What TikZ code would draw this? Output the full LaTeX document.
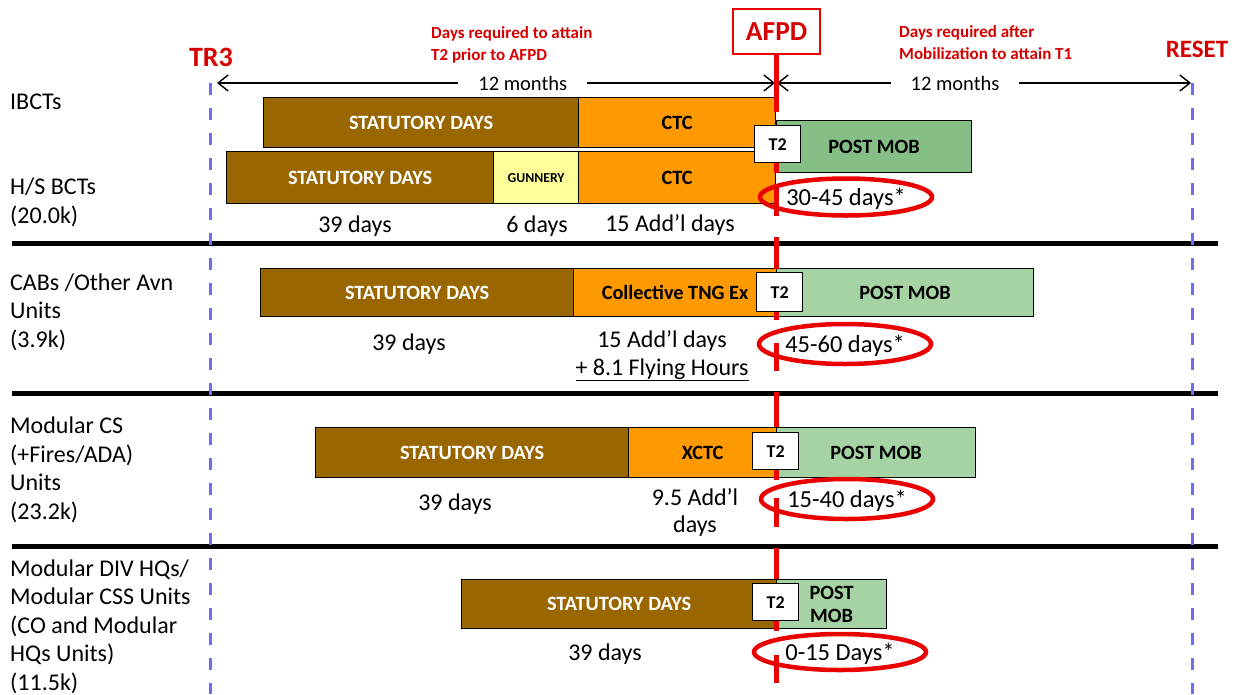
\documentclass[tikz,border=0pt]{standalone}
\usepackage{fontspec}
\setmainfont{Carlito}
\usetikzlibrary{arrows.meta,shapes.geometric}
\definecolor{brn}{RGB}{153,102,0}
\definecolor{org}{RGB}{255,153,0}
\definecolor{yel}{RGB}{255,255,153}
\definecolor{grnD}{RGB}{133,191,133}
\definecolor{grnL}{RGB}{165,211,163}
\definecolor{bluD}{RGB}{110,110,245}
\definecolor{myred}{RGB}{235,0,0}
\definecolor{redtxt}{RGB}{215,0,0}
\newcommand\fsz[2]{\fontsize{#1}{#2}\selectfont}
\begin{document}
\begin{tikzpicture}[x=1pt,y=-1pt,
  bx/.style={draw=black, line width=1.2pt, inner sep=0pt, anchor=north west,
             font=\bfseries\fsz{20.3}{23}},
  sbox/.style={bx, fill=brn, text=white},
  obox/.style={bx, fill=org},
  gbox/.style={bx, fill=yel, font=\bfseries\fsz{13.7}{16}},
  pboxD/.style={bx, fill=grnD},
  pboxL/.style={bx, fill=grnL},
  tbox/.style={bx, fill=white, font=\bfseries\fsz{18}{20}},
  lbl/.style={anchor=base west, align=left, inner sep=0pt, font=\fsz{24}{28.5}},
  dys/.style={anchor=base, align=center, inner sep=0pt, font=\fsz{24}{28}},
  oval/.style={draw=myred, ellipse, line width=4.5pt, inner sep=0pt, text depth=0pt,
               minimum width=172pt, font=\fsz{24.5}{28}},
  redlbl/.style={anchor=base west, align=left, inner sep=0pt, text=redtxt, font=\bfseries\fsz{17}{21.5}},
  milestone/.style={anchor=base, inner sep=0pt, text=redtxt, font=\bfseries\fsz{28}{32}},
  dim/.style={line width=1.4pt, {Straight Barb[length=10pt,width=16pt]}-{Straight Barb[length=10pt,width=16pt]}},
  mlabel/.style={fill=white, inner xsep=20pt, inner ysep=2pt, font=\fsz{20.5}{24}},
  sepline/.style={line width=5pt, black},
  bluedash/.style={draw=bluD, line width=3pt, dash pattern=on 12pt off 13pt},
  redline/.style={draw=myred, line width=5pt}
]
\useasboundingbox (0,0) rectangle (1237,694);
\fill[white] (0,0) rectangle (1237,694);

% section separators
\draw[sepline] (12,243) -- (1218,243);
\draw[sepline] (12,393) -- (1218,393);
\draw[sepline] (12,546) -- (1218,546);

% milestones
\node[milestone] (tr3) at (211,66) {TR3};
\node[milestone, font=\bfseries\fsz{25}{28}] (reset) at (1197,57) {RESET};
\coordinate (tr3top) at (210,83);
\coordinate (tr3bot) at (210,694);
\coordinate (rstop) at (1192,83);
\coordinate (rsbot) at (1192,694);
\draw[bluedash] (tr3top) -- (tr3bot);
\draw[bluedash] (rstop) -- (rsbot);

\node[draw=myred, line width=2.2pt, fill=white, anchor=north west, inner sep=0pt,
      minimum width=87pt, minimum height=45pt,
      text=redtxt, font=\bfseries\fsz{27.5}{30}] (afpd) at (732,8) {AFPD};

\node[redlbl] (req1) at (431,60) {Days required to attain\\T2 prior to AFPD};
\node[redlbl] (req2) at (899,59) {Days required after\\Mobilization to attain T1};

% 12 month spans
\coordinate (la) at (217,83);
\coordinate (lb) at (775,83);
\coordinate (ra) at (777,83);
\coordinate (rb) at (1191,83);
\draw[dim] (la) -- node[mlabel, pos=0.548] {12 months} (lb);
\draw[dim] (ra) -- node[mlabel, pos=0.43] {12 months} (rb);

% Row 1: IBCTs
\node[sbox, minimum width=315pt, minimum height=50pt] (s1) at (263,97) {STATUTORY DAYS};
\node[obox, minimum width=197pt, minimum height=50pt] (c1) at (578,97) {CTC};
\node[pboxD, minimum width=195pt, minimum height=52pt] (p1) at (776,120) {POST MOB};
% Row 2: H/S BCTs
\node[sbox, minimum width=267pt, minimum height=52pt] (s2) at (226,151) {STATUTORY DAYS};
\node[gbox, minimum width=85pt, minimum height=52pt] (g2) at (493,151) {GUNNERY};
\node[obox, minimum width=197pt, minimum height=52pt] (c2) at (578,151) {CTC};
% Row 3: CABs
\node[sbox, minimum width=313pt, minimum height=48pt] (s3) at (260,268) {STATUTORY DAYS};
\node[obox, minimum width=203pt, minimum height=48pt] (c3) at (573,268) {Collective TNG Ex};
\node[pboxL, minimum width=257pt, minimum height=48pt] (p3) at (776,268) {POST MOB};
% Row 4: Modular CS
\node[sbox, minimum width=313pt, minimum height=50pt] (s4) at (315,427) {STATUTORY DAYS};
\node[obox, minimum width=148pt, minimum height=50pt] (c4) at (628,427) {XCTC};
\node[pboxL, minimum width=199pt, minimum height=50pt] (p4) at (776,427) {POST MOB};
% Row 5: Modular DIV HQs
\node[sbox, minimum width=315pt, minimum height=49pt] (s5) at (461,579) {STATUTORY DAYS};
\node[pboxL, minimum width=110pt, minimum height=49pt, align=center,
      font=\bfseries\fsz{20.3}{23}] (p5) at (776,579) {POST\\MOB};

% AFPD line (drawn in pieces over the bars)
\foreach \a/\b in {53/112, 160/173, 188/216, 237/269, 309/320, 343/371,
                   392/427, 467/480, 498/527, 548/579, 618/631, 655/683}
  \draw[redline] (776,\a) -- (776,\b);

% T2 markers
\node[tbox, minimum width=46pt, minimum height=37pt] (t1) at (754,125) {T2};
\node[tbox, minimum width=46pt, minimum height=39pt] (t3) at (756,272) {T2};
\node[tbox, minimum width=46pt, minimum height=37pt] (t4) at (752,432) {T2};
\node[tbox, minimum width=46pt, minimum height=37pt] (t5) at (752,583) {T2};

% post-mob ovals
\node[oval, minimum height=37pt] (o2) at (846,197) {30-45 days*};
\node[oval, minimum height=40pt] (o3) at (845,344) {45-60 days*};
\node[oval, minimum height=40pt] (o4) at (847,499) {15-40 days*};
\node[oval, minimum height=36pt] (o5) at (840,652) {0-15 Days*};

% unit labels (anchored at the baseline of the last line)
\node[lbl] (l1) at (10,109) {IBCTs};
\node[lbl] (l2) at (10,223) {H/S BCTs\\(20.0k)};
\node[lbl] (l3) at (10,347) {CABs /Other Avn\\Units\\(3.9k)};
\node[lbl] (l4) at (10,519) {Modular CS\\(+Fires/ADA)\\Units\\(23.2k)};
\node[lbl] (l5) at (10,690) {Modular DIV HQs/\\Modular CSS Units\\(CO and Modular\\HQs Units)\\(11.5k)};

% durations
\node[dys] (d2a) at (355,232) {39 days};
\node[dys] (d2b) at (537,232) {6 days};
\node[dys] (d2c) at (670,231) {15 Add’l days};
\node[dys] (d3a) at (409,350) {39 days};
\node[dys] (d3b) at (662,375) {15 Add’l days\\\underline{+ 8.1 Flying Hours}};
\node[dys] (d4a) at (455,510) {39 days};
\node[dys, font=\fsz{24}{27}] (d4b) at (695,532) {9.5 Add’l\\days};
\node[dys] (d5a) at (605,660) {39 days};
\end{tikzpicture}
\end{document}
